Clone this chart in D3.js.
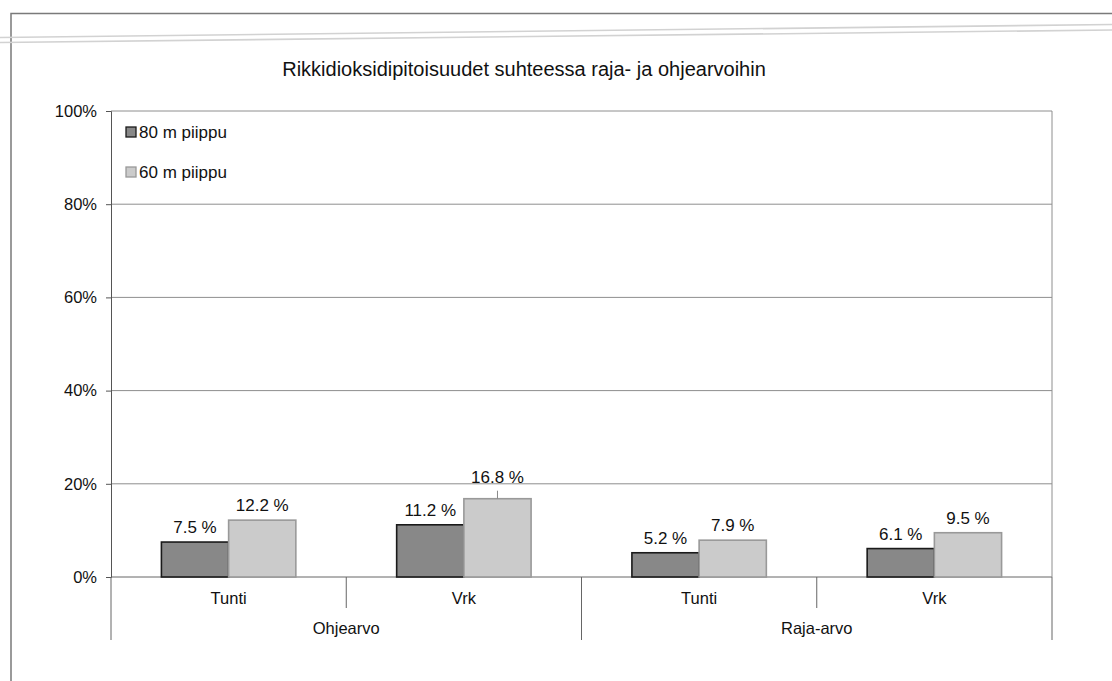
<!DOCTYPE html>
<html>
<head>
<meta charset="utf-8">
<script src="https://cdn.jsdelivr.net/npm/d3@7"></script>
<style>
  html, body { margin: 0; padding: 0; background: #fff; }
  svg { display: block; font-family: "Liberation Sans", Arial, sans-serif; }
</style>
</head>
<body>
<svg id="chart" width="1112" height="681"></svg>
<script>
// Sulphur dioxide concentrations relative to limit and guide values
const title = "Rikkidioksidipitoisuudet suhteessa raja- ja ohjearvoihin";
const groups = ["Ohjearvo", "Raja-arvo"];
const categories = ["Tunti", "Vrk", "Tunti", "Vrk"];
const categoryGroup = [0, 0, 1, 1];
const seriesNames = ["80 m piippu", "60 m piippu"];
const stack80 = [7.5, 11.2, 5.2, 6.1];
const stack60 = [12.2, 16.8, 7.9, 9.5];
const yTicks = [0, 20, 40, 60, 80, 100];

const series = [
  { name: seriesNames[0], values: stack80, fill: "#888888", stroke: "#1a1a1a" },
  { name: seriesNames[1], values: stack60, fill: "#cbcbcb", stroke: "#999999" }
];

const svg = d3.select("#chart");
const plot = { left: 111, right: 1052, top: 111, bottom: 577 };

const x = d3.scaleBand()
  .domain(d3.range(categories.length))
  .range([plot.left, plot.right])
  .paddingInner(0).paddingOuter(0);

const xInner = d3.scaleBand()
  .domain(d3.range(series.length))
  .range([0, x.bandwidth()])
  .paddingInner(0)
  .paddingOuter(0.75);

const y = d3.scaleLinear().domain([0, 100]).range([plot.bottom, plot.top]);

// outer frame of the figure
svg.append("path")
  .attr("d", `M11,681 V13.5 H1112`)
  .attr("fill", "none").attr("stroke", "#7a7a7a").attr("stroke-width", 1.5);

// faint double rule across the top of the sheet
[[37.5, 24.5], [42.5, 30]].forEach(([y0, y1]) => {
  svg.append("line")
    .attr("x1", 0).attr("x2", 1112).attr("y1", y0).attr("y2", y1)
    .attr("stroke", "#d2d2d2").attr("stroke-width", 1.6);
});

// title
svg.append("text")
  .attr("x", 524).attr("y", 76)
  .attr("text-anchor", "middle")
  .attr("font-size", 20)
  .attr("fill", "#111")
  .text(title);

// horizontal gridlines
svg.append("g").selectAll("line")
  .data(yTicks)
  .join("line")
  .attr("x1", plot.left).attr("x2", plot.right)
  .attr("y1", d => y(d)).attr("y2", d => y(d))
  .attr("stroke", d => d === 0 ? "#666" : "#8e8e8e")
  .attr("stroke-width", 1);

// plot area right border
svg.append("line")
  .attr("x1", plot.right).attr("x2", plot.right)
  .attr("y1", plot.top).attr("y2", plot.bottom)
  .attr("stroke", "#8e8e8e");

// y axis
const yAxis = d3.axisLeft(y)
  .tickValues(yTicks)
  .tickFormat(d => d + "%")
  .tickSize(5)
  .tickPadding(9);
const gy = svg.append("g")
  .attr("transform", `translate(${plot.left},0)`)
  .call(yAxis);
gy.select(".domain").attr("stroke", "#555");
gy.selectAll(".tick line").attr("stroke", "#555");
gy.selectAll(".tick text")
  .attr("font-size", 16.5)
  .attr("fill", "#111")
  .attr("font-family", "Liberation Sans, Arial, sans-serif");

// x axis: category ticks and labels
const gx = svg.append("g");
const boundaries = d3.range(categories.length + 1).map(i =>
  i < categories.length ? x(i) : plot.right);
gx.selectAll("line.sep")
  .data(boundaries)
  .join("line")
  .attr("class", "sep")
  .attr("x1", d => d).attr("x2", d => d)
  .attr("y1", plot.bottom)
  .attr("y2", (d, i) => (i === 0 || i === categories.length ||
      categoryGroup[i] !== categoryGroup[i - 1]) ? 640 : 608)
  .attr("stroke", "#666").attr("stroke-width", 1);

gx.selectAll("text.cat")
  .data(categories)
  .join("text")
  .attr("class", "cat")
  .attr("x", (d, i) => x(i) + x.bandwidth() / 2)
  .attr("y", 604)
  .attr("text-anchor", "middle")
  .attr("font-size", 16.5)
  .attr("fill", "#111")
  .text(d => d);

gx.selectAll("text.grp")
  .data(groups)
  .join("text")
  .attr("class", "grp")
  .attr("x", (d, gi) => {
    const idx = d3.range(categories.length).filter(i => categoryGroup[i] === gi);
    return (x(idx[0]) + x(idx[idx.length - 1]) + x.bandwidth()) / 2;
  })
  .attr("y", 634)
  .attr("text-anchor", "middle")
  .attr("font-size", 16.5)
  .attr("fill", "#111")
  .text(d => d);

// bars
const bars = svg.append("g");
series.forEach((s, si) => {
  bars.selectAll(`rect.s${si}`)
    .data(s.values)
    .join("rect")
    .attr("class", `s${si}`)
    .attr("x", (d, i) => x(i) + xInner(si))
    .attr("y", d => y(d))
    .attr("width", xInner.bandwidth())
    .attr("height", d => y(0) - y(d))
    .attr("fill", s.fill)
    .attr("stroke", s.stroke)
    .attr("stroke-width", 1.6);
});

// value labels; a label that would sit on a gridline is lifted above it
// and tied back to its bar with a short leader
const labels = svg.append("g");
series.forEach((s, si) => {
  s.values.forEach((v, i) => {
    const cx = x(i) + xInner(si) + xInner.bandwidth() / 2;
    const top = y(v);
    let base = top - 9;
    const capTop = base - 12;
    const hit = yTicks.find(t => y(t) > capTop && y(t) < base + 2);
    if (hit !== undefined) {
      base = y(hit) - 1;
      labels.append("line")
        .attr("x1", cx).attr("x2", cx)
        .attr("y1", top).attr("y2", top - 8)
        .attr("stroke", "#888").attr("stroke-width", 1);
    }
    labels.append("text")
      .attr("x", cx).attr("y", base)
      .attr("text-anchor", "middle")
      .attr("font-size", 17)
      .attr("fill", "#111")
      .text(v.toFixed(1) + " %");
  });
});

// legend
const legend = svg.append("g");
series.forEach((s, si) => {
  const ly = 132 + si * 40;
  legend.append("rect")
    .attr("x", 126).attr("y", ly - 5)
    .attr("width", 10).attr("height", 10)
    .attr("fill", s.fill).attr("stroke", s.stroke).attr("stroke-width", 1.3);
  legend.append("text")
    .attr("x", 139).attr("y", ly + 6)
    .attr("font-size", 17)
    .attr("fill", "#111")
    .text(s.name);
});
</script>
</body>
</html>
